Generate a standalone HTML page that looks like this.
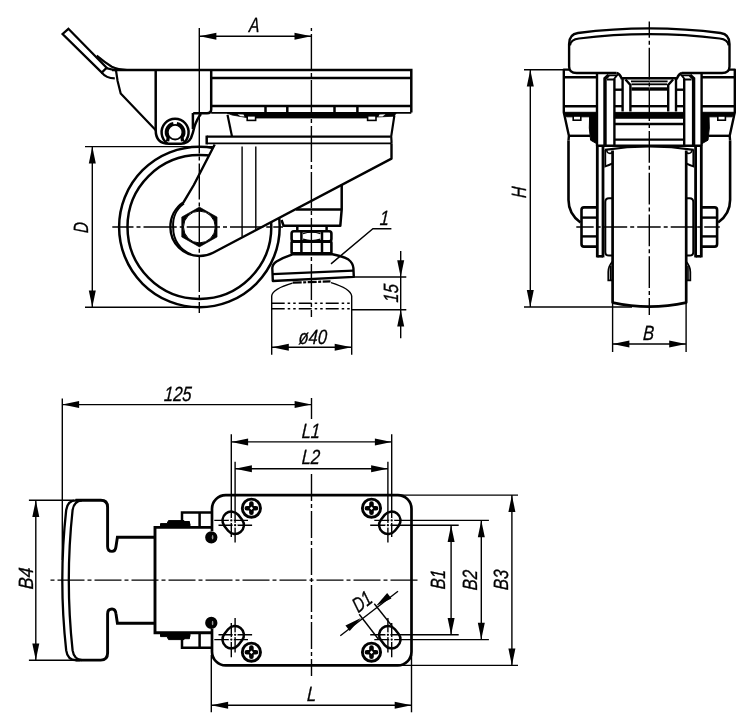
<!DOCTYPE html>
<html><head><meta charset="utf-8"><title>Drawing</title>
<style>
html,body{margin:0;padding:0;background:#fff;}
svg{display:block;font-family:"Liberation Sans",sans-serif;}
</style></head><body>
<svg width="750" height="728" viewBox="0 0 750 728">
<rect width="750" height="728" fill="#fff"/>
<g opacity="0.999"><circle cx="199.4" cy="227.0" r="80.3" stroke="#000" stroke-width="2.5" fill="none" />
<circle cx="199.4" cy="227.0" r="71.9" stroke="#000" stroke-width="2.5" fill="none" />
<path d="M214.7,144.5 L193.8,185 L183.6,202.2 A29.6,29.6 0 0 0 170.4,227.5 A29,28.6 0 0 0 199.6,256 Q207,256 213.1,252.8 L391.5,158.6 V143.4" stroke="#000" stroke-width="2.4" fill="#fff" stroke-linejoin="round"/>
<path d="M183.9,203.5 A26.8,26.8 0 0 0 173.2,227.5 A26.8,27.6 0 0 0 191,254.3" stroke="#000" stroke-width="2.0" fill="none" />
<polygon points="199.40,207.11 217.07,217.06 217.07,236.94 199.40,246.89 181.73,236.94 181.73,217.06" fill="#000" stroke="#000" stroke-width="0.6" stroke-linejoin="miter"/>
<circle cx="199.4" cy="227.0" r="15.9" stroke="#000" stroke-width="1" fill="#fff" />
<line x1="242.1" y1="146.5" x2="242.1" y2="236.8" stroke="#000" stroke-width="1.4" />
<line x1="255.8" y1="146.5" x2="255.8" y2="229.8" stroke="#000" stroke-width="1.4" />
<path d="M68.4,28.8 L62.6,34 L101.8,72.6 L106.6,67.8 Z" stroke="#000" stroke-width="2.3" fill="none" stroke-linejoin="miter"/>
<path d="M96.7,55.7 Q104,62 111.8,66.7 Q118,69.5 127,70" stroke="#000" stroke-width="2.2" fill="none" />
<path d="M101.8,72.6 Q106,78.2 114.8,78.4" stroke="#000" stroke-width="2.2" fill="none" />
<path d="M106.3,68.1 L115,70.3" stroke="#000" stroke-width="2.2" fill="none" />
<path d="M116,70.5 L117.6,81 L120.7,93.5 L155.8,130.3" stroke="#000" stroke-width="2.2" fill="none" stroke-linejoin="round"/>
<path d="M112,70 H411.3 V112.6" stroke="#000" stroke-width="2.5" fill="none" />
<path d="M155.7,70 V130 Q155.7,143.8 169,143.8 H181 Q188,143.8 191,138 Q193,133 194.3,127.2 Q196.8,119 201,114" stroke="#000" stroke-width="2.5" fill="none" />
<line x1="192.9" y1="113" x2="192.9" y2="129" stroke="#000" stroke-width="2.5" />
<path d="M211.2,70 V109.5 Q211.2,113.2 207,113.2 H193.2" stroke="#000" stroke-width="2.5" fill="none" />
<line x1="211.2" y1="77.9" x2="411.3" y2="77.9" stroke="#000" stroke-width="2.5" />
<line x1="211.2" y1="106" x2="411.3" y2="106" stroke="#000" stroke-width="2.5" />
<path d="M211.2,112.9 H411.3" stroke="#000" stroke-width="1.8" fill="none" />
<path d="M167.4,143.3 A13.5,13.5 0 1 1 182.8,143.3" stroke="#000" stroke-width="2.5" fill="none" />
<circle cx="175.1" cy="132.2" r="7.3" stroke="#000" stroke-width="1.8" fill="none" />
<path d="M167.6,141.2 L168.2,137.6 A8.8,8.8 0 0 1 173.4,123.6 M176.8,123.6 A8.8,8.8 0 0 1 182,137.6 L182.6,141.2" stroke="#000" stroke-width="3.3" fill="none" stroke-linejoin="round"/>
<line x1="265.5" y1="106" x2="265.5" y2="112.6" stroke="#000" stroke-width="2.5" />
<line x1="287.3" y1="106" x2="287.3" y2="112.6" stroke="#000" stroke-width="2.5" />
<line x1="334.5" y1="106" x2="334.5" y2="112.6" stroke="#000" stroke-width="2.5" />
<line x1="357.4" y1="106" x2="357.4" y2="112.6" stroke="#000" stroke-width="2.5" />
<path d="M227,113 L396.3,113 L394,116.2 L377,117 L367,118 L256,118 L246,117.4 L232,115 Z" stroke="#000" stroke-width="0.8" fill="#000" />
<rect x="247.2" y="115.8" width="8.4" height="4.6" fill="#fff" stroke="#000" stroke-width="1.6"/>
<rect x="367.6" y="115.8" width="8.4" height="4.6" fill="#fff" stroke="#000" stroke-width="1.6"/>
<path d="M379.5,114.6 L385.5,114.3 L382.5,116.4 L378.5,116.6 Z" fill="#fff"/>
<path d="M243.5,114.6 L237.5,114.3 L240.5,116.2 L244.5,116.6 Z" fill="#fff"/>
<path d="M227.5,114.8 L232,136.5" stroke="#000" stroke-width="2.2" fill="none" />
<path d="M394.4,115.3 L391.2,136.3 L391.5,141 V143.5" stroke="#000" stroke-width="2.2" fill="none" stroke-linejoin="round"/>
<line x1="206.7" y1="136.6" x2="390.5" y2="136.6" stroke="#000" stroke-width="2.4" />
<line x1="206.7" y1="135.6" x2="206.7" y2="144.4" stroke="#000" stroke-width="2.5" />
<line x1="206.7" y1="143.4" x2="391.5" y2="143.4" stroke="#000" stroke-width="1.8" />
<path d="M341.7,185 V209.4 L340.3,225.8 H283.6 L281.5,220" stroke="#000" stroke-width="2.5" fill="none" stroke-linejoin="round"/>
<line x1="296" y1="209.4" x2="341.7" y2="209.4" stroke="#000" stroke-width="2.5" />
<line x1="297.3" y1="226" x2="297.3" y2="231" stroke="#000" stroke-width="2.5" />
<line x1="326.6" y1="226" x2="326.6" y2="231" stroke="#000" stroke-width="2.5" />
<rect x="291.6" y="231.2" width="39.8" height="10" rx="2.2" fill="none" stroke="#000" stroke-width="2.6"/>
<rect x="291.6" y="241.6" width="39.8" height="11.8" rx="1.2" fill="none" stroke="#000" stroke-width="2.6"/>
<line x1="301.4" y1="231" x2="301.4" y2="253.4" stroke="#000" stroke-width="2.5" />
<line x1="322" y1="231" x2="322" y2="253.4" stroke="#000" stroke-width="2.5" />
<path d="M303,233.6 Q311.7,230.6 320.4,233.6 M303,239.2 Q311.7,242 320.4,239.2" stroke="#000" stroke-width="1.3" fill="none" />
<path d="M272.8,281 L272.3,268 Q272.6,264 276.5,261.5 Q283,257.6 292.5,254.4 L331.3,254 Q343,256.2 348.5,259.6 Q353,263 353.4,268 L353.8,276.9 Z" stroke="#000" stroke-width="2.4" fill="#fff" stroke-linejoin="round"/>
<path d="M272.5,274.2 L353.4,270.6" stroke="#000" stroke-width="2.3" fill="none" />
<line x1="292.7" y1="282.7" x2="330.5" y2="281.4" stroke="#000" stroke-width="2.2" stroke-dasharray="9 1.5 3 1.5"/>
<path d="M271.7,354.8 V296 Q272.5,289 292.5,283.2 M331,282.6 Q350.5,288.5 351.7,296 V354.8" stroke="#000" stroke-width="1.4" fill="none" />
<line x1="271.7" y1="303.3" x2="351.7" y2="303.3" stroke="#000" stroke-width="1.4" stroke-dasharray="13 3 2.5 3 2.5 3"/>
<line x1="271.7" y1="308.8" x2="351.7" y2="308.8" stroke="#000" stroke-width="1.4" stroke-dasharray="13 3 2.5 3 2.5 3"/>
<line x1="199.3" y1="28" x2="199.3" y2="146" stroke="#000" stroke-width="1.4" />
<line x1="199.3" y1="146" x2="199.3" y2="313" stroke="#000" stroke-width="1.4" stroke-dasharray="36.2 3 4 3" stroke-dashoffset="28.80"/>
<line x1="112.3" y1="227" x2="283" y2="227" stroke="#000" stroke-width="1.4" stroke-dasharray="33.25 3 4 3" stroke-dashoffset="12.05"/>
<line x1="311.4" y1="28" x2="311.4" y2="317" stroke="#000" stroke-width="1.4" stroke-dasharray="36 3 4 3" stroke-dashoffset="40.00"/>
<line x1="199.5" y1="36.3" x2="311.5" y2="36.3" stroke="#000" stroke-width="1.4" />
<polygon points="199.60,36.30 216.40,32.80 216.40,39.80" fill="#000"/>
<polygon points="311.30,36.30 294.50,39.80 294.50,32.80" fill="#000"/>
<text transform="translate(254,32.3) rotate(0) scale(0.76,1) skewX(-4.5)" font-size="20.6" text-anchor="middle" font-style="italic" fill="#000" stroke="#000" stroke-width="0.3" vector-effect="non-scaling-stroke">A</text>
<line x1="85" y1="146.6" x2="213" y2="146.6" stroke="#000" stroke-width="1.4" />
<line x1="85" y1="307.2" x2="199" y2="307.2" stroke="#000" stroke-width="1.4" />
<line x1="92.3" y1="146.5" x2="92.3" y2="307" stroke="#000" stroke-width="1.4" />
<polygon points="92.30,146.60 95.80,163.40 88.80,163.40" fill="#000"/>
<polygon points="92.30,307.20 88.80,290.40 95.80,290.40" fill="#000"/>
<text transform="translate(87.6,227.9) rotate(-90) scale(0.72,1) skewX(-4.5)" font-size="20.6" text-anchor="middle" font-style="italic" fill="#000" stroke="#000" stroke-width="0.3" vector-effect="non-scaling-stroke">D</text>
<path d="M331,263.9 L372.9,228.8 H391.4" stroke="#000" stroke-width="1.4" fill="none" />
<text transform="translate(384,224.7) rotate(0) scale(0.8,1) skewX(-4.5)" font-size="20.6" text-anchor="middle" font-style="italic" fill="#000" stroke="#000" stroke-width="0.3" vector-effect="non-scaling-stroke">1</text>
<line x1="353.7" y1="277" x2="406.3" y2="277" stroke="#000" stroke-width="1.4" />
<line x1="352" y1="309.8" x2="406.3" y2="309.8" stroke="#000" stroke-width="1.4" />
<line x1="400.7" y1="251" x2="400.7" y2="338.2" stroke="#000" stroke-width="1.4" />
<polygon points="400.70,277.00 397.20,260.20 404.20,260.20" fill="#000"/>
<polygon points="400.70,309.80 404.20,326.60 397.20,326.60" fill="#000"/>
<text transform="translate(398.2,293.6) rotate(-90) scale(0.8,1) skewX(-4.5)" font-size="20.6" text-anchor="middle" font-style="italic" fill="#000" stroke="#000" stroke-width="0.3" vector-effect="non-scaling-stroke">15</text>
<line x1="272" y1="347.2" x2="351.5" y2="347.2" stroke="#000" stroke-width="1.4" />
<polygon points="272.00,347.20 288.80,343.70 288.80,350.70" fill="#000"/>
<polygon points="351.50,347.20 334.70,350.70 334.70,343.70" fill="#000"/>
<text transform="translate(312.5,343.8) rotate(0) scale(0.8,1) skewX(-4.5)" font-size="20.6" text-anchor="middle" font-style="italic" fill="#000" stroke="#000" stroke-width="0.3" vector-effect="non-scaling-stroke">ø40</text>
<path d="M612.6,150.5 V302.6 Q649.3,310.8 686.2,302.6 V150.5" stroke="#000" stroke-width="2.7" fill="none" stroke-linejoin="round"/>
<path d="M604.8,149.8 Q649.3,142.8 693.8,149.8" stroke="#000" stroke-width="2.2" fill="none" />
<path d="M569.1,44 Q569.1,34.2 578,33 Q613,28.4 649.3,28.4 Q685.6,28.4 720.6,33 Q729.5,34.2 729.5,44 V66.5 Q729.5,73 722,73 H682 M616.6,73 H576.6 Q569.1,73 569.1,66.5 V44" stroke="#000" stroke-width="2.4" fill="none" />
<path d="M570,45.5 Q570.6,39.4 579,38.5 Q613,34.1 649.3,34.1 Q685.6,34.1 719.6,38.5 Q728,39.4 728.6,45.5" stroke="#000" stroke-width="2.1" fill="none" />
<g>
<path d="M570,69.6 H563.8 V112.5 L564.6,116 L568.9,135.8 L568.5,140.5" stroke="#000" stroke-width="2.4" fill="none" stroke-linejoin="round"/>
<path d="M568.5,140.5 V200 Q568.5,214 580.5,222.5" stroke="#000" stroke-width="2.6" fill="none" />
<line x1="563.8" y1="77.3" x2="596.6" y2="77.3" stroke="#000" stroke-width="2.4" />
<line x1="563.8" y1="106.2" x2="596.6" y2="106.2" stroke="#000" stroke-width="2.4" />
<path d="M563.8,112.3 H596.6 V116.8 H566.4 Z" stroke="#000" stroke-width="1" fill="#000" />
<rect x="573.2" y="116" width="7.6" height="4.2" fill="#fff" stroke="#000" stroke-width="1.6"/>
<line x1="568.9" y1="135.8" x2="590" y2="135.8" stroke="#000" stroke-width="2.4" />
<path d="M589.6,116 H596.6 V143.6 L590.6,140.2 L589.3,128 Z" stroke="#000" stroke-width="1" fill="#000" />
<line x1="597" y1="74" x2="597" y2="146" stroke="#000" stroke-width="2.4" />
<line x1="597.3" y1="146" x2="597.3" y2="257.4" stroke="#000" stroke-width="2.8" />
<path d="M616.6,73 Q620,74 621.5,78.2 H649.3" stroke="#000" stroke-width="2.4" fill="none" />
<path d="M608.5,75.3 L605,78.5 V146" stroke="#000" stroke-width="3.4" fill="none" />
<path d="M607,75.3 H617 L613.6,79.5 H607" stroke="#000" stroke-width="1.8" fill="none" />
<line x1="603" y1="146" x2="603" y2="257.4" stroke="#000" stroke-width="2.8" />
<path d="M597.3,256.3 H603" stroke="#000" stroke-width="2.6" fill="none" />
<line x1="614.4" y1="79" x2="614.4" y2="146" stroke="#000" stroke-width="2.4" />
<line x1="622.6" y1="78.2" x2="622.6" y2="111.5" stroke="#000" stroke-width="2.4" />
<path d="M625.5,79.5 L630.4,85 V111.5" stroke="#000" stroke-width="2.4" fill="none" />
<line x1="614.4" y1="89.7" x2="622.6" y2="89.7" stroke="#000" stroke-width="2.4" />
<line x1="614.4" y1="106.2" x2="622.6" y2="106.2" stroke="#000" stroke-width="2.4" />
<line x1="631" y1="81.4" x2="649.3" y2="81.4" stroke="#000" stroke-width="1.8" />
<line x1="631.5" y1="84.3" x2="649.3" y2="84.3" stroke="#000" stroke-width="1.8" />
<line x1="631.5" y1="89" x2="649.3" y2="89" stroke="#000" stroke-width="3.4" />
<line x1="630.4" y1="106.2" x2="649.3" y2="106.2" stroke="#000" stroke-width="2.4" />
<path d="M614.4,112.4 H649.3 V118.2 H614.4 Z" stroke="#000" stroke-width="1" fill="#000" />
<line x1="614.4" y1="124" x2="649.3" y2="124" stroke="#000" stroke-width="2.4" />
<line x1="614.4" y1="139.6" x2="649.3" y2="139.6" stroke="#000" stroke-width="2.4" />
<path d="M596.7,145.8 H649.3" stroke="#000" stroke-width="2.6" fill="none" />
<path d="M606.5,149.5 Q607,153.4 610,153.4 Q612.5,153.4 612.5,151" stroke="#000" stroke-width="1.6" fill="none" />
<path d="M605.3,150 V166.4 Q609,165.2 612.5,163.4" stroke="#000" stroke-width="1.8" fill="none" />
<path d="M612.5,198.2 H609 Q605.3,198.2 605.3,202 V252 Q605.3,255.6 609,255.6 H612.5" stroke="#000" stroke-width="2.0" fill="none" />
<path d="M612.5,261.5 Q608.3,266 608.3,272 V280.3 H612.5" stroke="#000" stroke-width="1.8" fill="none" />
<line x1="610.6" y1="266" x2="610.6" y2="280" stroke="#000" stroke-width="1.6" />
<path d="M596.7,207.4 H584 Q581.5,207.4 581.5,210 V244 Q581.5,246.6 584,246.6 H596.7" stroke="#000" stroke-width="2.6" fill="none" />
<line x1="581.5" y1="217.6" x2="596.7" y2="217.6" stroke="#000" stroke-width="2.4" />
<line x1="581.5" y1="236.4" x2="596.7" y2="236.4" stroke="#000" stroke-width="2.4" />
</g>
<g transform="translate(1298.6,0) scale(-1,1)">
<path d="M570,69.6 H563.8 V112.5 L564.6,116 L568.9,135.8 L568.5,140.5" stroke="#000" stroke-width="2.4" fill="none" stroke-linejoin="round"/>
<path d="M568.5,140.5 V200 Q568.5,214 580.5,222.5" stroke="#000" stroke-width="2.6" fill="none" />
<line x1="563.8" y1="77.3" x2="596.6" y2="77.3" stroke="#000" stroke-width="2.4" />
<line x1="563.8" y1="106.2" x2="596.6" y2="106.2" stroke="#000" stroke-width="2.4" />
<path d="M563.8,112.3 H596.6 V116.8 H566.4 Z" stroke="#000" stroke-width="1" fill="#000" />
<rect x="573.2" y="116" width="7.6" height="4.2" fill="#fff" stroke="#000" stroke-width="1.6"/>
<line x1="568.9" y1="135.8" x2="590" y2="135.8" stroke="#000" stroke-width="2.4" />
<path d="M589.6,116 H596.6 V143.6 L590.6,140.2 L589.3,128 Z" stroke="#000" stroke-width="1" fill="#000" />
<line x1="597" y1="74" x2="597" y2="146" stroke="#000" stroke-width="2.4" />
<line x1="597.3" y1="146" x2="597.3" y2="257.4" stroke="#000" stroke-width="2.8" />
<path d="M616.6,73 Q620,74 621.5,78.2 H649.3" stroke="#000" stroke-width="2.4" fill="none" />
<path d="M608.5,75.3 L605,78.5 V146" stroke="#000" stroke-width="3.4" fill="none" />
<path d="M607,75.3 H617 L613.6,79.5 H607" stroke="#000" stroke-width="1.8" fill="none" />
<line x1="603" y1="146" x2="603" y2="257.4" stroke="#000" stroke-width="2.8" />
<path d="M597.3,256.3 H603" stroke="#000" stroke-width="2.6" fill="none" />
<line x1="614.4" y1="79" x2="614.4" y2="146" stroke="#000" stroke-width="2.4" />
<line x1="622.6" y1="78.2" x2="622.6" y2="111.5" stroke="#000" stroke-width="2.4" />
<path d="M625.5,79.5 L630.4,85 V111.5" stroke="#000" stroke-width="2.4" fill="none" />
<line x1="614.4" y1="89.7" x2="622.6" y2="89.7" stroke="#000" stroke-width="2.4" />
<line x1="614.4" y1="106.2" x2="622.6" y2="106.2" stroke="#000" stroke-width="2.4" />
<line x1="631" y1="81.4" x2="649.3" y2="81.4" stroke="#000" stroke-width="1.8" />
<line x1="631.5" y1="84.3" x2="649.3" y2="84.3" stroke="#000" stroke-width="1.8" />
<line x1="631.5" y1="89" x2="649.3" y2="89" stroke="#000" stroke-width="3.4" />
<line x1="630.4" y1="106.2" x2="649.3" y2="106.2" stroke="#000" stroke-width="2.4" />
<path d="M614.4,112.4 H649.3 V118.2 H614.4 Z" stroke="#000" stroke-width="1" fill="#000" />
<line x1="614.4" y1="124" x2="649.3" y2="124" stroke="#000" stroke-width="2.4" />
<line x1="614.4" y1="139.6" x2="649.3" y2="139.6" stroke="#000" stroke-width="2.4" />
<path d="M596.7,145.8 H649.3" stroke="#000" stroke-width="2.6" fill="none" />
<path d="M606.5,149.5 Q607,153.4 610,153.4 Q612.5,153.4 612.5,151" stroke="#000" stroke-width="1.6" fill="none" />
<path d="M605.3,150 V166.4 Q609,165.2 612.5,163.4" stroke="#000" stroke-width="1.8" fill="none" />
<path d="M612.5,198.2 H609 Q605.3,198.2 605.3,202 V252 Q605.3,255.6 609,255.6 H612.5" stroke="#000" stroke-width="2.0" fill="none" />
<path d="M612.5,261.5 Q608.3,266 608.3,272 V280.3 H612.5" stroke="#000" stroke-width="1.8" fill="none" />
<line x1="610.6" y1="266" x2="610.6" y2="280" stroke="#000" stroke-width="1.6" />
<path d="M596.7,207.4 H584 Q581.5,207.4 581.5,210 V244 Q581.5,246.6 584,246.6 H596.7" stroke="#000" stroke-width="2.6" fill="none" />
<line x1="581.5" y1="217.6" x2="596.7" y2="217.6" stroke="#000" stroke-width="2.4" />
<line x1="581.5" y1="236.4" x2="596.7" y2="236.4" stroke="#000" stroke-width="2.4" />
</g>
<line x1="649.3" y1="21.4" x2="649.3" y2="315" stroke="#000" stroke-width="1.4" stroke-dasharray="31.7 3 4 3" stroke-dashoffset="15.40"/>
<line x1="576.3" y1="227" x2="719.8" y2="227" stroke="#000" stroke-width="1.4" stroke-dasharray="23.5 3 4 3" stroke-dashoffset="6.10"/>
<line x1="524" y1="69.7" x2="563.8" y2="69.7" stroke="#000" stroke-width="1.4" />
<line x1="524" y1="307" x2="632" y2="307" stroke="#000" stroke-width="1.4" />
<line x1="530.3" y1="69.7" x2="530.3" y2="307" stroke="#000" stroke-width="1.4" />
<polygon points="530.30,69.80 533.80,86.60 526.80,86.60" fill="#000"/>
<polygon points="530.30,306.90 526.80,290.10 533.80,290.10" fill="#000"/>
<text transform="translate(525.8,192.6) rotate(-90) scale(0.75,1) skewX(-4.5)" font-size="20.6" text-anchor="middle" font-style="italic" fill="#000" stroke="#000" stroke-width="0.3" vector-effect="non-scaling-stroke">H</text>
<line x1="612.6" y1="303" x2="612.6" y2="352" stroke="#000" stroke-width="1.4" />
<line x1="686.1" y1="303" x2="686.1" y2="352" stroke="#000" stroke-width="1.4" />
<line x1="612.6" y1="344" x2="686" y2="344" stroke="#000" stroke-width="1.4" />
<polygon points="612.60,344.00 629.40,340.50 629.40,347.50" fill="#000"/>
<polygon points="686.00,344.00 669.20,347.50 669.20,340.50" fill="#000"/>
<text transform="translate(648.3,339.6) rotate(0) scale(0.8,1) skewX(-4.5)" font-size="20.6" text-anchor="middle" font-style="italic" fill="#000" stroke="#000" stroke-width="0.3" vector-effect="non-scaling-stroke">B</text>
<path d="M212,531 V508.8 A13.7,13.7 0 0 1 225.7,495.1 H397.8 A13.7,13.7 0 0 1 411.5,508.8 V651.7 A13.7,13.7 0 0 1 397.8,665.4 H225.7 A13.7,13.7 0 0 1 212,651.7 V629" stroke="#000" stroke-width="2.7" fill="none" />
<path d="M75.5,500.3 H100.8 Q107.6,500.3 107.6,507.3 V546.5 Q107.6,551.4 112,551.4 Q115.5,551.4 116,546.5 L117.4,537.2 H155" stroke="#000" stroke-width="2.9" fill="none" />
<path d="M75.5,660.1 H100.8 Q107.6,660.1 107.6,653.1 V613.9 Q107.6,609 112,609 Q115.5,609 116,613.9 L117.4,623.2 H155" stroke="#000" stroke-width="2.9" fill="none" />
<path d="M80,500.3 H76 Q67.5,500.3 66.2,510 Q62.3,545 62.3,580.2 Q62.3,615 66.2,650.4 Q67.5,660.1 76,660.1 H80" stroke="#000" stroke-width="2.3" fill="none" />
<path d="M82,500.3 Q74,500.8 72.6,510 Q68.8,545 68.8,580.2 Q68.8,615 72.6,650.4 Q74,659.6 82,660.1" stroke="#000" stroke-width="2.3" fill="none" />
<g>
<path d="M155,580.2 V527.4 H211.3" stroke="#000" stroke-width="2.9" fill="none" />
<path d="M182,527.4 V512.5 H211.3" stroke="#000" stroke-width="2.5" fill="none" />
<line x1="199.6" y1="512.5" x2="199.6" y2="527.4" stroke="#000" stroke-width="2.5" />
<path d="M160.5,527 V523.6 H167 L168.5,520.6 H184 L185,523.6 H190 V527 Z" stroke="#000" stroke-width="1" fill="#000" />
<path d="M183,521.5 H189.5 V525.5 H183 Z" stroke="#000" stroke-width="1" fill="#000" />
<circle cx="211.3" cy="537.3" r="4.9" stroke="#000" stroke-width="2.5" fill="#000" />
<ellipse cx="212.6" cy="537.2" rx="0.8" ry="2.2" fill="#999"/>
</g>
<g transform="translate(0,1160.2) scale(1,-1)">
<path d="M155,580.2 V527.4 H211.3" stroke="#000" stroke-width="2.9" fill="none" />
<path d="M182,527.4 V512.5 H211.3" stroke="#000" stroke-width="2.5" fill="none" />
<line x1="199.6" y1="512.5" x2="199.6" y2="527.4" stroke="#000" stroke-width="2.5" />
<path d="M160.5,527 V523.6 H167 L168.5,520.6 H184 L185,523.6 H190 V527 Z" stroke="#000" stroke-width="1" fill="#000" />
<path d="M183,521.5 H189.5 V525.5 H183 Z" stroke="#000" stroke-width="1" fill="#000" />
<circle cx="211.3" cy="537.3" r="4.9" stroke="#000" stroke-width="2.5" fill="#000" />
<ellipse cx="212.6" cy="537.2" rx="0.8" ry="2.2" fill="#999"/>
</g>
<path d="M224.32,525.92 L228.12,530.72 A8.9,8.9 0 0 0 242.08,519.68 L238.28,514.88 A8.9,8.9 0 0 0 224.32,525.92 Z" stroke="#000" stroke-width="2.5" fill="none" />
<path d="M384.72,514.88 L380.92,519.68 A8.9,8.9 0 0 0 394.88,530.72 L398.68,525.92 A8.9,8.9 0 0 0 384.72,514.88 Z" stroke="#000" stroke-width="2.5" fill="none" />
<path d="M238.28,645.12 L242.08,640.32 A8.9,8.9 0 0 0 228.12,629.28 L224.32,634.08 A8.9,8.9 0 0 0 238.28,645.12 Z" stroke="#000" stroke-width="2.5" fill="none" />
<path d="M398.68,634.08 L394.88,629.28 A8.9,8.9 0 0 0 380.92,640.32 L384.72,645.12 A8.9,8.9 0 0 0 398.68,634.08 Z" stroke="#000" stroke-width="2.5" fill="none" />
<circle cx="251.4" cy="508.2" r="9.1" stroke="#000" stroke-width="2.9" fill="none" />
<path d="M246.8,508.2 H256.0 M251.4,503.59999999999997 V512.8" stroke="#000" stroke-width="4.6" fill="none" stroke-linecap="round"/>
<path d="M249.70000000000002,508.2 L251.4,506.5 L253.1,508.2 L251.4,509.9 Z" fill="#fff"/>
<circle cx="371.5" cy="508.2" r="9.1" stroke="#000" stroke-width="2.9" fill="none" />
<path d="M366.9,508.2 H376.1 M371.5,503.59999999999997 V512.8" stroke="#000" stroke-width="4.6" fill="none" stroke-linecap="round"/>
<path d="M369.8,508.2 L371.5,506.5 L373.2,508.2 L371.5,509.9 Z" fill="#fff"/>
<circle cx="251.4" cy="652.2" r="9.1" stroke="#000" stroke-width="2.9" fill="none" />
<path d="M246.8,652.2 H256.0 M251.4,647.6 V656.8000000000001" stroke="#000" stroke-width="4.6" fill="none" stroke-linecap="round"/>
<path d="M249.70000000000002,652.2 L251.4,650.5 L253.1,652.2 L251.4,653.9000000000001 Z" fill="#fff"/>
<circle cx="371.5" cy="652.2" r="9.1" stroke="#000" stroke-width="2.9" fill="none" />
<path d="M366.9,652.2 H376.1 M371.5,647.6 V656.8000000000001" stroke="#000" stroke-width="4.6" fill="none" stroke-linecap="round"/>
<path d="M369.8,652.2 L371.5,650.5 L373.2,652.2 L371.5,653.9000000000001 Z" fill="#fff"/>
<line x1="231.3" y1="434.3" x2="231.3" y2="537" stroke="#000" stroke-width="1.4" />
<line x1="391.7" y1="434.3" x2="391.7" y2="537" stroke="#000" stroke-width="1.4" />
<line x1="235.1" y1="461.8" x2="235.1" y2="542.5" stroke="#000" stroke-width="1.4" />
<line x1="387.9" y1="461.8" x2="387.9" y2="542.5" stroke="#000" stroke-width="1.4" />
<line x1="231.3" y1="623" x2="231.3" y2="657.2" stroke="#000" stroke-width="1.4" />
<line x1="391.7" y1="623" x2="391.7" y2="657.2" stroke="#000" stroke-width="1.4" />
<line x1="235.1" y1="618" x2="235.1" y2="652.5" stroke="#000" stroke-width="1.4" />
<line x1="387.9" y1="618" x2="387.9" y2="652.5" stroke="#000" stroke-width="1.4" />
<line x1="214.3" y1="520.4" x2="248" y2="520.4" stroke="#000" stroke-width="1.4" />
<line x1="218.5" y1="525.2" x2="252.1" y2="525.2" stroke="#000" stroke-width="1.4" />
<line x1="214.3" y1="639.6" x2="248" y2="639.6" stroke="#000" stroke-width="1.4" />
<line x1="218.5" y1="634.8" x2="252.1" y2="634.8" stroke="#000" stroke-width="1.4" />
<line x1="374.3" y1="520.4" x2="488.9" y2="520.4" stroke="#000" stroke-width="1.4" />
<line x1="370.2" y1="525.2" x2="458.7" y2="525.2" stroke="#000" stroke-width="1.4" />
<line x1="374.3" y1="639.6" x2="488.9" y2="639.6" stroke="#000" stroke-width="1.4" />
<line x1="370.2" y1="634.8" x2="458.7" y2="634.8" stroke="#000" stroke-width="1.4" />
<circle cx="231.3" cy="520.4" r="2.5" fill="#fff"/>
<circle cx="231.3" cy="520.4" r="1.15" fill="#000"/>
<circle cx="231.3" cy="639.6" r="2.5" fill="#fff"/>
<circle cx="231.3" cy="639.6" r="1.15" fill="#000"/>
<circle cx="391.7" cy="520.4" r="2.5" fill="#fff"/>
<circle cx="391.7" cy="520.4" r="1.15" fill="#000"/>
<circle cx="391.7" cy="639.6" r="2.5" fill="#fff"/>
<circle cx="391.7" cy="639.6" r="1.15" fill="#000"/>
<circle cx="235.1" cy="525.2" r="2.5" fill="#fff"/>
<circle cx="235.1" cy="525.2" r="1.15" fill="#000"/>
<circle cx="235.1" cy="634.8" r="2.5" fill="#fff"/>
<circle cx="235.1" cy="634.8" r="1.15" fill="#000"/>
<circle cx="387.9" cy="525.2" r="2.5" fill="#fff"/>
<circle cx="387.9" cy="525.2" r="1.15" fill="#000"/>
<circle cx="387.9" cy="634.8" r="2.5" fill="#fff"/>
<circle cx="387.9" cy="634.8" r="1.15" fill="#000"/>
<line x1="50.5" y1="580.1" x2="418" y2="580.1" stroke="#000" stroke-width="1.4" stroke-dasharray="27 3 4 3" stroke-dashoffset="30.00"/>
<line x1="311.5" y1="398" x2="311.5" y2="419" stroke="#000" stroke-width="1.4" />
<line x1="311.5" y1="472" x2="311.5" y2="676" stroke="#000" stroke-width="1.4" stroke-dasharray="27 3 4 3" stroke-dashoffset="34.90"/>
<line x1="62.3" y1="398.5" x2="62.3" y2="560" stroke="#000" stroke-width="1.4" />
<line x1="62.3" y1="404.6" x2="311.5" y2="404.6" stroke="#000" stroke-width="1.4" />
<polygon points="62.30,404.60 79.10,401.10 79.10,408.10" fill="#000"/>
<polygon points="311.40,404.60 294.60,408.10 294.60,401.10" fill="#000"/>
<text transform="translate(177.5,400.6) rotate(0) scale(0.8,1) skewX(-4.5)" font-size="20.6" text-anchor="middle" font-style="italic" fill="#000" stroke="#000" stroke-width="0.3" vector-effect="non-scaling-stroke">125</text>
<line x1="231.3" y1="441.9" x2="391.7" y2="441.9" stroke="#000" stroke-width="1.4" />
<polygon points="231.30,441.90 248.10,438.40 248.10,445.40" fill="#000"/>
<polygon points="391.70,441.90 374.90,445.40 374.90,438.40" fill="#000"/>
<text transform="translate(310.6,437.6) rotate(0) scale(0.8,1) skewX(-4.5)" font-size="20.6" text-anchor="middle" font-style="italic" fill="#000" stroke="#000" stroke-width="0.3" vector-effect="non-scaling-stroke">L1</text>
<line x1="235.1" y1="468.7" x2="387.9" y2="468.7" stroke="#000" stroke-width="1.4" />
<polygon points="235.10,468.70 251.90,465.20 251.90,472.20" fill="#000"/>
<polygon points="387.90,468.70 371.10,472.20 371.10,465.20" fill="#000"/>
<text transform="translate(310.6,464) rotate(0) scale(0.8,1) skewX(-4.5)" font-size="20.6" text-anchor="middle" font-style="italic" fill="#000" stroke="#000" stroke-width="0.3" vector-effect="non-scaling-stroke">L2</text>
<line x1="28.9" y1="500.3" x2="74" y2="500.3" stroke="#000" stroke-width="1.4" />
<line x1="28.9" y1="660.3" x2="74" y2="660.3" stroke="#000" stroke-width="1.4" />
<line x1="35.8" y1="500.3" x2="35.8" y2="660.3" stroke="#000" stroke-width="1.4" />
<polygon points="35.80,500.30 39.30,517.10 32.30,517.10" fill="#000"/>
<polygon points="35.80,660.30 32.30,643.50 39.30,643.50" fill="#000"/>
<text transform="translate(33.1,578.8) rotate(-90) scale(0.85,1) skewX(-4.5)" font-size="20.6" text-anchor="middle" font-style="italic" fill="#000" stroke="#000" stroke-width="0.3" vector-effect="non-scaling-stroke">B4</text>
<line x1="211.3" y1="655" x2="211.3" y2="712.3" stroke="#000" stroke-width="1.4" />
<line x1="411.5" y1="655" x2="411.5" y2="712.3" stroke="#000" stroke-width="1.4" />
<line x1="211.3" y1="705.3" x2="411.5" y2="705.3" stroke="#000" stroke-width="1.4" />
<polygon points="211.30,705.30 228.10,701.80 228.10,708.80" fill="#000"/>
<polygon points="411.50,705.30 394.70,708.80 394.70,701.80" fill="#000"/>
<text transform="translate(311.3,700.5) rotate(0) scale(0.8,1) skewX(-4.5)" font-size="20.6" text-anchor="middle" font-style="italic" fill="#000" stroke="#000" stroke-width="0.3" vector-effect="non-scaling-stroke">L</text>
<line x1="451.1" y1="525.2" x2="451.1" y2="634.8" stroke="#000" stroke-width="1.4" />
<polygon points="451.10,525.20 454.60,542.00 447.60,542.00" fill="#000"/>
<polygon points="451.10,634.80 447.60,618.00 454.60,618.00" fill="#000"/>
<text transform="translate(444.7,579.8) rotate(-90) scale(0.78,1) skewX(-4.5)" font-size="20.6" text-anchor="middle" font-style="italic" fill="#000" stroke="#000" stroke-width="0.3" vector-effect="non-scaling-stroke">B1</text>
<line x1="481.3" y1="520.4" x2="481.3" y2="639.6" stroke="#000" stroke-width="1.4" />
<polygon points="481.30,520.40 484.80,537.20 477.80,537.20" fill="#000"/>
<polygon points="481.30,639.60 477.80,622.80 484.80,622.80" fill="#000"/>
<text transform="translate(476.6,580.5) rotate(-90) scale(0.8,1) skewX(-4.5)" font-size="20.6" text-anchor="middle" font-style="italic" fill="#000" stroke="#000" stroke-width="0.3" vector-effect="non-scaling-stroke">B2</text>
<line x1="398" y1="495.1" x2="518" y2="495.1" stroke="#000" stroke-width="1.4" />
<line x1="398" y1="665.4" x2="518" y2="665.4" stroke="#000" stroke-width="1.4" />
<line x1="511.9" y1="495.1" x2="511.9" y2="665.4" stroke="#000" stroke-width="1.4" />
<polygon points="511.90,495.10 515.40,511.90 508.40,511.90" fill="#000"/>
<polygon points="511.90,665.40 508.40,648.60 515.40,648.60" fill="#000"/>
<text transform="translate(508.1,580.2) rotate(-90) scale(0.8,1) skewX(-4.5)" font-size="20.6" text-anchor="middle" font-style="italic" fill="#000" stroke="#000" stroke-width="0.3" vector-effect="non-scaling-stroke">B3</text>
<line x1="340.3" y1="635.7" x2="398" y2="591.3" stroke="#000" stroke-width="1.4" />
<polygon points="360.90,618.10 349.73,631.12 345.45,625.58" fill="#000"/>
<polygon points="376.00,606.00 387.17,592.98 391.45,598.52" fill="#000"/>
<line x1="359.2" y1="614.3" x2="378.5" y2="639.2" stroke="#000" stroke-width="1.4" />
<line x1="374.3" y1="603.7" x2="392" y2="626" stroke="#000" stroke-width="1.4" />
<text transform="translate(366,607.4) rotate(-37.6) scale(0.74,1) skewX(-4.5)" font-size="20.6" text-anchor="middle" font-style="italic" fill="#000" stroke="#000" stroke-width="0.3" vector-effect="non-scaling-stroke">D1</text></g>
</svg>
</body></html>
